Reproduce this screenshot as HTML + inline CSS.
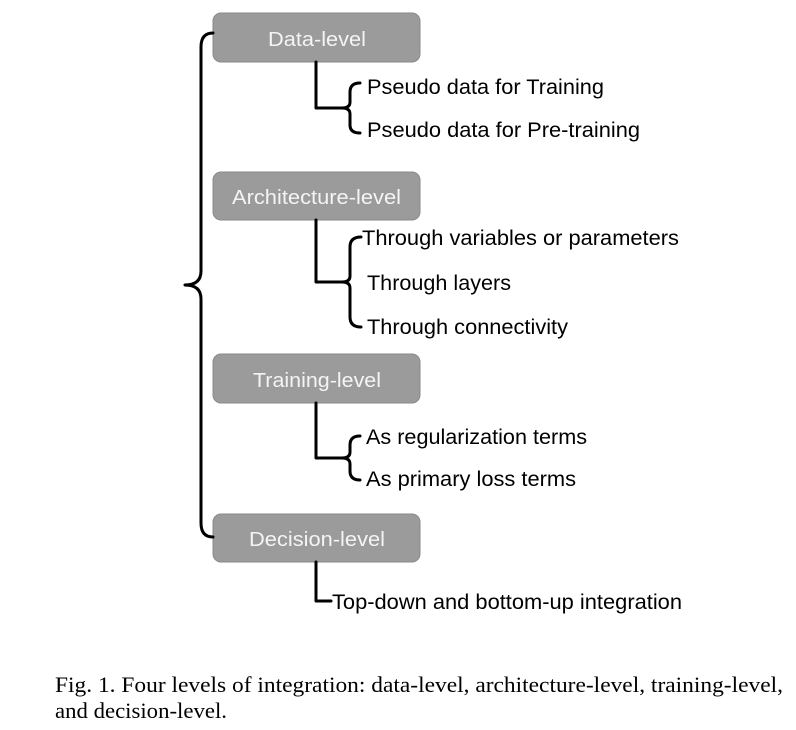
<!DOCTYPE html>
<html><head><meta charset="utf-8"><style>
html,body{margin:0;padding:0;background:#fff;}
svg{display:block;}
</style></head><body>
<svg width="796" height="730" viewBox="0 0 796 730" xmlns="http://www.w3.org/2000/svg">
<g fill="#9b9b9b" stroke="#8a8a8a" stroke-width="1">
<rect x="213" y="13" width="207" height="49" rx="8"/>
<rect x="213" y="172" width="207" height="48" rx="8"/>
<rect x="213" y="354" width="207" height="49" rx="8"/>
<rect x="213" y="514" width="207" height="48" rx="8"/>
</g>
<g font-family="Liberation Sans, Arial, sans-serif" font-size="20" fill="#f4f4f4" lengthAdjust="spacingAndGlyphs">
<text x="268" y="46" textLength="98" lengthAdjust="spacingAndGlyphs">Data-level</text>
<text x="232" y="204" textLength="169" lengthAdjust="spacingAndGlyphs">Architecture-level</text>
<text x="253" y="387" textLength="128" lengthAdjust="spacingAndGlyphs">Training-level</text>
<text x="249" y="546" textLength="136" lengthAdjust="spacingAndGlyphs">Decision-level</text>
</g>
<g fill="none" stroke="#000" stroke-width="3" stroke-linecap="round" stroke-linejoin="round">
<path d="M213,33 Q201,33 201,47 L201,271 Q201,285 185,285 Q201,285 201,299 L201,523 Q201,537 213,537"/>
<path d="M316,62 L316,108 L344,108"/>
<path d="M360,83 Q350,83 350,92 L350,102 Q350,108 342,108 Q350,108 350,114 L350,125 Q350,133 360,133"/>
<path d="M316,220 L316,282 L343,282"/>
<path d="M361,237 Q350,237 350,247 L350,276 Q350,282 342,282 Q350,282 350,288 L350,317 Q350,327 361,327"/>
<path d="M316,403 L316,458 L343,458"/>
<path d="M360,436 Q350,436 350,445 L350,452 Q350,458 342,458 Q350,458 350,464 L350,471 Q350,480 360,480"/>
<path d="M316,562 L316,601 L331,601"/>
</g>
<g font-family="Liberation Sans, Arial, sans-serif" font-size="21" fill="#000">
<text x="367" y="94" textLength="237" lengthAdjust="spacingAndGlyphs">Pseudo data for Training</text>
<text x="367" y="137" textLength="273" lengthAdjust="spacingAndGlyphs">Pseudo data for Pre-training</text>
<text x="362" y="245" textLength="317" lengthAdjust="spacingAndGlyphs">Through variables or parameters</text>
<text x="367" y="290" textLength="144" lengthAdjust="spacingAndGlyphs">Through layers</text>
<text x="367" y="334" textLength="201" lengthAdjust="spacingAndGlyphs">Through connectivity</text>
<text x="366" y="444" textLength="221" lengthAdjust="spacingAndGlyphs">As regularization terms</text>
<text x="366" y="486" textLength="210" lengthAdjust="spacingAndGlyphs">As primary loss terms</text>
<text x="332" y="609" textLength="350" lengthAdjust="spacingAndGlyphs">Top-down and bottom-up integration</text>
</g>
<g font-family="Liberation Serif, Times New Roman, serif" font-size="22" fill="#000">
<text x="55" y="692" textLength="728" lengthAdjust="spacingAndGlyphs">Fig. 1.  Four levels of integration: data-level, architecture-level, training-level,</text>
<text x="55" y="718" textLength="172" lengthAdjust="spacingAndGlyphs">and decision-level.</text>
</g>
</svg>
</body></html>
